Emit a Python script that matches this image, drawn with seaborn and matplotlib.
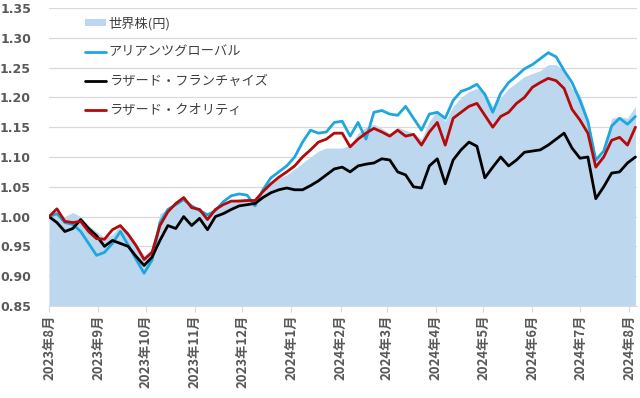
import pandas as pd
import numpy as np
import matplotlib
matplotlib.use('Agg')
import matplotlib.pyplot as plt
from matplotlib.patches import Patch
from matplotlib.lines import Line2D
import seaborn as sns

# ==============================================================================
# Datos (base 1.00 = 2023/8/1)
# ==============================================================================
fechas = pd.date_range('2023-08-01', '2024-08-05', freq='5D')

sekai_kabu = [1.000, 1.005, 1.000, 1.007, 1.000, 0.985, 0.975, 0.965, 0.970, 0.985,
              0.975, 0.955, 0.935, 0.945, 1.005, 1.012, 1.020, 1.025, 1.015, 1.015,
              1.005, 1.012, 1.018, 1.028, 1.030, 1.030, 1.025, 1.040, 1.055, 1.065,
              1.070, 1.080, 1.090, 1.100, 1.110, 1.115, 1.115, 1.115, 1.120, 1.140,
              1.150, 1.155, 1.148, 1.140, 1.150, 1.145, 1.140, 1.130, 1.160, 1.178,
              1.160, 1.185, 1.200, 1.210, 1.215, 1.210, 1.185, 1.200, 1.215, 1.225,
              1.235, 1.240, 1.245, 1.255, 1.255, 1.245, 1.215, 1.205, 1.165, 1.100,
              1.105, 1.165, 1.168, 1.165, 1.185]

allianz = [1.000, 1.005, 0.990, 0.987, 0.975, 0.955, 0.935, 0.940, 0.955, 0.975,
           0.952, 0.928, 0.905, 0.927, 0.990, 1.012, 1.020, 1.028, 1.018, 1.010,
           1.003, 1.010, 1.025, 1.035, 1.038, 1.036, 1.018, 1.045, 1.065, 1.075,
           1.085, 1.100, 1.125, 1.145, 1.140, 1.142, 1.158, 1.160, 1.135, 1.158,
           1.130, 1.175, 1.178, 1.172, 1.170, 1.185, 1.165, 1.145, 1.172, 1.175,
           1.165, 1.195, 1.210, 1.215, 1.222, 1.205, 1.175, 1.207, 1.225, 1.236,
           1.248, 1.255, 1.265, 1.275, 1.268, 1.245, 1.225, 1.195, 1.160, 1.095,
           1.110, 1.152, 1.165, 1.155, 1.168]

franchise = [1.000, 0.990, 0.975, 0.980, 0.995, 0.980, 0.968, 0.950, 0.960, 0.955,
             0.950, 0.933, 0.918, 0.932, 0.960, 0.985, 0.980, 1.000, 0.985, 0.997,
             0.978, 1.000, 1.005, 1.012, 1.018, 1.020, 1.022, 1.032, 1.040, 1.045,
             1.048, 1.045, 1.045, 1.052, 1.060, 1.070, 1.080, 1.083, 1.075, 1.085,
             1.088, 1.090, 1.097, 1.095, 1.075, 1.070, 1.050, 1.048, 1.085, 1.097,
             1.055, 1.095, 1.112, 1.125, 1.118, 1.065, 1.083, 1.100, 1.085, 1.095,
             1.108, 1.110, 1.112, 1.120, 1.130, 1.140, 1.115, 1.098, 1.100, 1.030,
             1.050, 1.073, 1.075, 1.090, 1.100]

quality = [1.000, 1.013, 0.992, 0.990, 0.992, 0.975, 0.963, 0.962, 0.978, 0.985,
           0.970, 0.951, 0.928, 0.940, 0.985, 1.008, 1.022, 1.032, 1.015, 1.012,
           0.995, 1.012, 1.020, 1.026, 1.026, 1.027, 1.027, 1.042, 1.055, 1.066,
           1.075, 1.085, 1.100, 1.112, 1.125, 1.130, 1.140, 1.140, 1.117, 1.130,
           1.140, 1.148, 1.142, 1.135, 1.145, 1.135, 1.138, 1.120, 1.142, 1.158,
           1.120, 1.165, 1.175, 1.185, 1.190, 1.170, 1.150, 1.168, 1.175, 1.190,
           1.200, 1.217, 1.225, 1.232, 1.228, 1.215, 1.180, 1.162, 1.140, 1.083,
           1.100, 1.128, 1.133, 1.120, 1.150]

nombres = ['世界株(円)', 'アリアンツグローバル', 'ラザード・フランチャイズ', 'ラザード・クオリティ']
colores = {'アリアンツグローバル': '#1EA7DF',
           'ラザード・フランチャイズ': '#000000',
           'ラザード・クオリティ': '#B40A0A'}
color_area = '#BDD7EE'

ticks_meses = pd.date_range('2023-08-01', '2024-08-01', freq='MS')
etiquetas_meses = ['2023年8月', '2023年9月', '2023年10月', '2023年11月', '2023年12月',
                   '2024年1月', '2024年2月', '2024年3月', '2024年4月', '2024年5月',
                   '2024年6月', '2024年7月', '2024年8月']

# Formato largo para seaborn
df = pd.DataFrame({'fecha': fechas,
                   'アリアンツグローバル': allianz,
                   'ラザード・フランチャイズ': franchise,
                   'ラザード・クオリティ': quality})
df_largo = df.melt(id_vars='fecha', var_name='fondo', value_name='valor')

# ==============================================================================
# Gráfico
# ==============================================================================
sns.set_style("white")
plt.rcParams['font.family'] = ['Noto Sans CJK JP', 'DejaVu Sans']

fig = plt.figure(figsize=(6.4, 3.98), dpi=100)
ax = fig.add_axes([49 / 640, 92 / 398, 588 / 640, 298 / 398])

ax.fill_between(fechas, 0.85, sekai_kabu, color=color_area, lw=0, zorder=1)
sns.lineplot(data=df_largo, x='fecha', y='valor', hue='fondo', palette=colores,
             linewidth=2.0, ax=ax, legend=False, zorder=3)

valores_y = np.arange(0.85, 1.351, 0.05)
ax.set_ylim(0.85, 1.35)
ax.set_yticks(valores_y)
ax.set_yticklabels([f'{v:.2f}' for v in valores_y], family='DejaVu Sans',
                   fontweight='bold', fontsize=9)
ax.set_xlim(pd.Timestamp('2023-08-01'), pd.Timestamp('2024-08-06'))
ax.set_xticks(ticks_meses)
ax.set_xticklabels(etiquetas_meses, rotation=90, fontweight='bold', fontsize=9.5)
ax.set_xlabel('')
ax.set_ylabel('')

ax.yaxis.grid(True, color='#D9D9D9', lw=0.9, zorder=0)
ax.xaxis.grid(False)
ax.set_axisbelow(True)
for lado in ['top', 'right', 'left']:
    ax.spines[lado].set_visible(False)
ax.spines['bottom'].set_color('#D9D9D9')
ax.tick_params(axis='x', bottom=True, length=4, color='#D9D9D9', pad=2,
               labelcolor='#595959')
ax.tick_params(axis='y', left=False, pad=9.5, labelcolor='#595959')

manejadores = [Patch(facecolor=color_area, edgecolor='none')] + \
    [Line2D([0], [0], color=colores[n], lw=2.0) for n in nombres[1:]]
leyenda = ax.legend(manejadores, nombres, loc='upper left', bbox_to_anchor=(0.041, 1.01),
                    frameon=False, fontsize=9.5, labelspacing=1.2, handlelength=1.6,
                    handletextpad=0.2, handleheight=0.5)
for t in leyenda.get_texts():
    t.set_color('#404040')

fig.savefig('out.png', dpi=100)
